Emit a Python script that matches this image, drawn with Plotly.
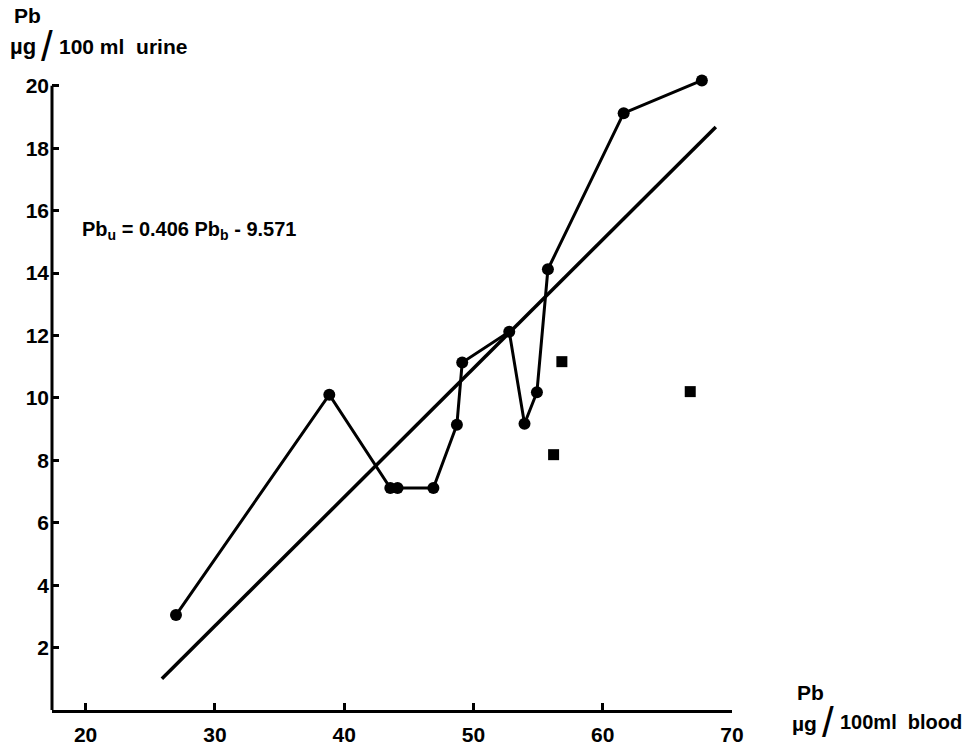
import plotly.graph_objects as go

# Data
blood_circ = [26.99, 38.85, 43.57, 44.13, 46.9, 48.72, 49.13, 52.77, 53.95, 54.91, 55.76, 61.62, 67.67]
urine_circ = [3.04, 10.1, 7.11, 7.11, 7.11, 9.14, 11.13, 12.12, 9.17, 10.18, 14.12, 19.12, 20.17]
blood_sq = [56.84, 56.2, 66.77]
urine_sq = [11.16, 8.18, 10.2]
reg_x = [25.9, 68.75]
reg_y = [1.0, 18.68]
x_ticks = [20, 30, 40, 50, 60, 70]
y_ticks = [2, 4, 6, 8, 10, 12, 14, 16, 18, 20]
y_top = 20

W, H = 975, 748
L, R, T, B = 52, 243, 67, 38
pw, ph = W - L - R, H - T - B

def px(x):
    return (x - L) / pw

def py(y):
    return (H - B - y) / ph

FONT = "Liberation Sans"

fig = go.Figure()
fig.add_trace(go.Scatter(x=reg_x, y=reg_y, mode="lines",
                         line=dict(color="black", width=3.5), showlegend=False))
fig.add_trace(go.Scatter(x=blood_circ, y=urine_circ, mode="lines+markers",
                         line=dict(color="black", width=3), cliponaxis=False,
                         marker=dict(symbol="circle", size=12, color="black"),
                         showlegend=False))
fig.add_trace(go.Scatter(x=blood_sq, y=urine_sq, mode="markers",
                         marker=dict(symbol="square", size=11, color="black"),
                         showlegend=False))

axis_common = dict(showgrid=False, zeroline=False, linecolor="black", automargin=False,
                   linewidth=3, ticks="inside", ticklen=7, tickwidth=2.5, tickcolor="black",
                   tickfont=dict(family=FONT, size=21, color="black", weight="bold"))

fig.update_xaxes(range=[17.4, 70], tickvals=x_ticks, ticktext=[str(v) for v in x_ticks],
                 showline=True, ticklabelstandoff=4, **axis_common)
fig.update_yaxes(range=[0, 20.6], tickvals=y_ticks, ticktext=[str(v) for v in y_ticks],
                 showline=False, ticklabelstandoff=2, **axis_common)

# y-axis line stopping at the top tick
fig.add_shape(type="line", xref="paper", yref="y", x0=0, x1=0, y0=0, y1=y_top,
              line=dict(color="black", width=3))

ann = []
def add(text, x, y, size=21, xanchor="left", weight="bold"):
    ann.append(dict(text=text, x=px(x), y=py(y), xref="paper", yref="paper",
                    showarrow=False, xanchor=xanchor, yanchor="middle",
                    font=dict(family=FONT, size=size, color="black", weight=weight)))

# y-axis title
add("Pb", 12, 15)
add("µg", 8, 47, size=22)
add("/", 47, 47, size=42, xanchor="center", weight="normal")
add("100 ml  urine", 57, 46, size=21)
# equation
add("Pb<sub>u</sub> = 0.406 Pb<sub>b</sub> - 9.571", 80, 230, size=20)
# x-axis title
add("Pb", 795, 692)
add("µg", 790, 723, size=21)
add("/", 828, 722, size=42, xanchor="center", weight="normal")
add("100ml  blood", 838, 722, size=20)

fig.update_layout(width=W, height=H, autosize=False,
                  margin=dict(l=L, r=R, t=T, b=B),
                  plot_bgcolor="white", paper_bgcolor="white",
                  annotations=ann)

fig.write_html("out.html")
